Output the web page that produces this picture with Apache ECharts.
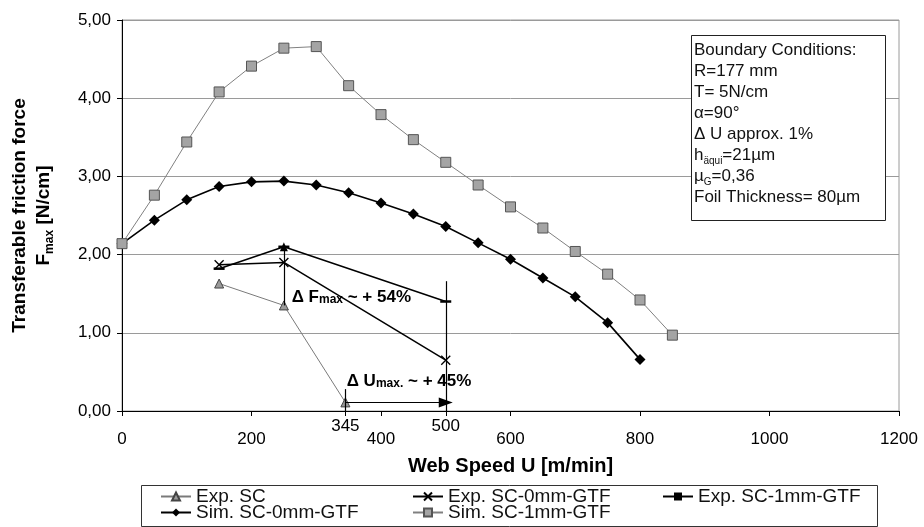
<!DOCTYPE html>
<html>
<head>
<meta charset="utf-8">
<script src="https://cdn.jsdelivr.net/npm/echarts@6/dist/echarts.min.js"></script>
<style>
  html, body { margin: 0; padding: 0; background: #fff; }
  #chart { width: 924px; height: 527px; }
</style>
</head>
<body>
<div id="chart"></div>
<script>
// Web speed [m/min] for the simulated curves
const speedSim1mm = [0, 50, 100, 150, 200, 250, 300, 350, 400, 450, 500, 550, 600, 650, 700, 750, 800, 850];
const simSC1mm   = [2.14, 2.76, 3.44, 4.08, 4.41, 4.64, 4.66, 4.16, 3.79, 3.47, 3.18, 2.89, 2.61, 2.34, 2.04, 1.75, 1.42, 0.97];
const speedSim0mm = [0, 50, 100, 150, 200, 250, 300, 350, 400, 450, 500, 550, 600, 650, 700, 750, 800];
const simSC0mm   = [2.14, 2.44, 2.70, 2.87, 2.93, 2.94, 2.89, 2.79, 2.66, 2.52, 2.36, 2.15, 1.94, 1.70, 1.46, 1.13, 0.66];

// Experimental measurements
const speedExpSC = [150, 250, 345];
const expSC      = [1.63, 1.35, 0.11];
const speedExpGTF = [150, 250, 500];
const expSC0mm   = [1.87, 1.90, 0.65];
const expSC1mm   = [1.82, 2.10, 1.40];

// Axis tick labels
const xLabels = [0, 200, 400, 600, 800, 1000, 1200];
const xRaisedLabels = [345, 500];
const yLabels = [0, 1, 2, 3, 4, 5];

// Legend entries, laid out as rows of three columns
const legendRows = [
  ['Exp. SC', 'Exp. SC-0mm-GTF', 'Exp. SC-1mm-GTF'],
  ['Sim. SC-0mm-GTF', 'Sim. SC-1mm-GTF']
];

const FONT = "'Liberation Sans', Arial, sans-serif";

const pairs = (xs, ys) => xs.map((x, i) => [x, ys[i]]);

const chart = echarts.init(document.getElementById('chart'), null, { renderer: 'canvas' });

const xTickValues = xLabels.concat(xRaisedLabels).sort((a, b) => a - b);

// annotation geometry derived from the measured points
const iPeak = 1;
const lastExpSC = speedExpSC.length - 1;
const lastGTF = speedExpGTF.length - 1;
const uStart = speedExpSC[lastExpSC];
const uEnd = speedExpGTF[lastGTF];
const arrowY = expSC[lastExpSC];

const annLine = { color: '#000', width: 1.2, type: 'solid' };

// one legend component per cell so the columns line up
const legendColLeft = [160, 412, 662];
const legendRowTop = [487, 503];
const legends = [];
legendRows.forEach((row, r) => {
  row.forEach((name, c) => {
    legends.push({
      data: [name],
      left: legendColLeft[c], top: legendRowTop[r], padding: 0,
      itemWidth: 30, itemHeight: 10,
      textStyle: { fontFamily: FONT, fontSize: 19, color: '#111' }
    });
  });
});

const option = {
  animation: false,
  textStyle: { fontFamily: FONT },
  grid: {
    left: 119, right: 25, top: 20, bottom: 116,
    show: true, borderColor: '#9a9a9a', borderWidth: 1
  },
  title: {
    text: 'Boundary Conditions:\nR=177 mm\nT= 5N/cm\nα=90°\nΔ U approx. 1%\nh{s|äqui}=21µm\nµ{s|G}=0,36\nFoil Thickness= 80µm',
    left: 691, top: 35,
    padding: [5, 0, 13, 3],
    borderColor: '#222', borderWidth: 1,
    backgroundColor: '#fff',
    textStyle: {
      fontFamily: FONT, fontSize: 17, fontWeight: 'normal', color: '#111',
      lineHeight: 21, width: 192,
      rich: {
        s: { fontFamily: FONT, fontSize: 10, color: '#111', verticalAlign: 'bottom', lineHeight: 12 }
      }
    }
  },
  legend: legends,
  graphic: [
    {
      type: 'rect', left: 141, top: 485, z: -10,
      shape: { width: 736, height: 41 },
      style: { fill: '#fff', stroke: '#333', lineWidth: 1 }
    }
  ],
  xAxis: [
    {
      type: 'value', min: 0, max: 1200, interval: 200, position: 'bottom',
      name: 'Web Speed U [m/min]', nameLocation: 'middle', nameGap: 45,
      nameTextStyle: { fontFamily: FONT, fontSize: 20, fontWeight: 'bold', color: '#000' },
      axisLine: { show: true, onZero: false, lineStyle: { color: '#000', width: 1 } },
      axisTick: { show: true, inside: false, length: 5, customValues: xTickValues, lineStyle: { color: '#000' } },
      axisLabel: {
        customValues: xLabels, margin: 20, fontFamily: FONT, fontSize: 17, color: '#000',
        formatter: v => String(v)
      },
      splitLine: { show: false }
    },
    {
      type: 'value', min: 0, max: 1200, position: 'bottom', offset: 0,
      axisLine: { show: false }, axisTick: { show: false }, splitLine: { show: false },
      axisLabel: {
        customValues: xRaisedLabels, margin: 7, fontFamily: FONT, fontSize: 17, color: '#000',
        formatter: v => String(v)
      }
    }
  ],
  yAxis: {
    type: 'value', min: 0, max: 5, interval: 1,
    name: '{t|Transferable friction force}\n{t|F}{s|max}{t| [N/cm]}',
    nameLocation: 'middle', nameGap: 66,
    nameTextStyle: {
      fontFamily: FONT, fontSize: 19, fontWeight: 'bold', color: '#000', lineHeight: 24,
      rich: {
        t: { fontFamily: FONT, fontSize: 19, fontWeight: 'bold', color: '#000', lineHeight: 24 },
        s: { fontFamily: FONT, fontSize: 12, fontWeight: 'bold', color: '#000', verticalAlign: 'bottom', lineHeight: 14 }
      }
    },
    axisLine: { show: true, lineStyle: { color: '#000', width: 1 } },
    axisTick: { show: true, inside: false, length: 5, lineStyle: { color: '#000' } },
    axisLabel: {
      customValues: yLabels, margin: 11, fontFamily: FONT, fontSize: 17, color: '#000',
      formatter: v => v.toFixed(2).replace('.', ',')
    },
    splitLine: { show: true, lineStyle: { color: '#9a9a9a', width: 1 } }
  },
  series: [
    {
      name: 'Exp. SC', type: 'line', clip: false,
      data: pairs(speedExpSC, expSC),
      symbol: 'triangle', symbolSize: 9,
      lineStyle: { color: '#7a7a7a', width: 1 },
      itemStyle: { color: '#9a9a9a', borderColor: '#444', borderWidth: 1 },
      z: 3
    },
    {
      name: 'Exp. SC-0mm-GTF', type: 'line', clip: false,
      data: pairs(speedExpGTF, expSC0mm),
      symbol: 'path://M0,0L10,10M10,0L0,10', symbolSize: 9,
      lineStyle: { color: '#000', width: 1.5 },
      itemStyle: { color: '#000', borderColor: '#000', borderWidth: 1.4 },
      z: 4
    },
    {
      name: 'Exp. SC-1mm-GTF', type: 'line', clip: false,
      data: pairs(speedExpGTF, expSC1mm),
      symbol: 'rect', symbolSize: [11, 2.5],
      lineStyle: { color: '#000', width: 1.5 },
      itemStyle: { color: '#000' },
      z: 4,
      markLine: {
        silent: true, symbolSize: 9, animation: false,
        label: { show: false },
        lineStyle: annLine,
        data: [
          [
            { coord: [speedExpGTF[iPeak], expSC[iPeak]], symbol: 'none' },
            { coord: [speedExpGTF[iPeak], expSC1mm[iPeak]], symbol: 'triangle', symbolSize: [8, 9] }
          ],
          [
            { coord: [uEnd, 0], symbol: 'none' },
            { coord: [uEnd, 1.66], symbol: 'none' }
          ],
          [
            { coord: [uStart, 0], symbol: 'none' },
            { coord: [uStart, 0.28], symbol: 'none' }
          ],
          [
            { coord: [uStart, arrowY], symbol: 'none' },
            { coord: [uEnd, arrowY], symbol: 'triangle', symbolSize: [10, 14], symbolRotate: -90 }
          ]
        ]
      },
      markPoint: {
        silent: true, symbol: 'circle', symbolSize: 0,
        itemStyle: { color: 'transparent' },
        label: {
          show: true, position: 'right', distance: 0, color: '#000',
          rich: {
            b: { fontFamily: FONT, fontSize: 17, fontWeight: 'bold', color: '#000' },
            s: { fontFamily: FONT, fontSize: 12, fontWeight: 'bold', color: '#000', verticalAlign: 'bottom', lineHeight: 14 }
          }
        },
        data: [
          { coord: [262, 1.46], label: { formatter: '{b|Δ F}{s|max}{b| ~ + 54%}' } },
          { coord: [347, 0.38], label: { formatter: '{b|Δ U}{s|max.}{b| ~ + 45%}' } }
        ]
      }
    },
    {
      name: 'Sim. SC-0mm-GTF', type: 'line', clip: false,
      data: pairs(speedSim0mm, simSC0mm),
      symbol: 'diamond', symbolSize: 11,
      lineStyle: { color: '#000', width: 1.6 },
      itemStyle: { color: '#000' },
      z: 5
    },
    {
      name: 'Sim. SC-1mm-GTF', type: 'line', clip: false,
      data: pairs(speedSim1mm, simSC1mm),
      symbol: 'rect', symbolSize: 10,
      lineStyle: { color: '#808080', width: 1 },
      itemStyle: { color: '#a4a4a4', borderColor: '#555', borderWidth: 1 },
      z: 6
    }
  ]
};

chart.setOption(option);
</script>
</body>
</html>
